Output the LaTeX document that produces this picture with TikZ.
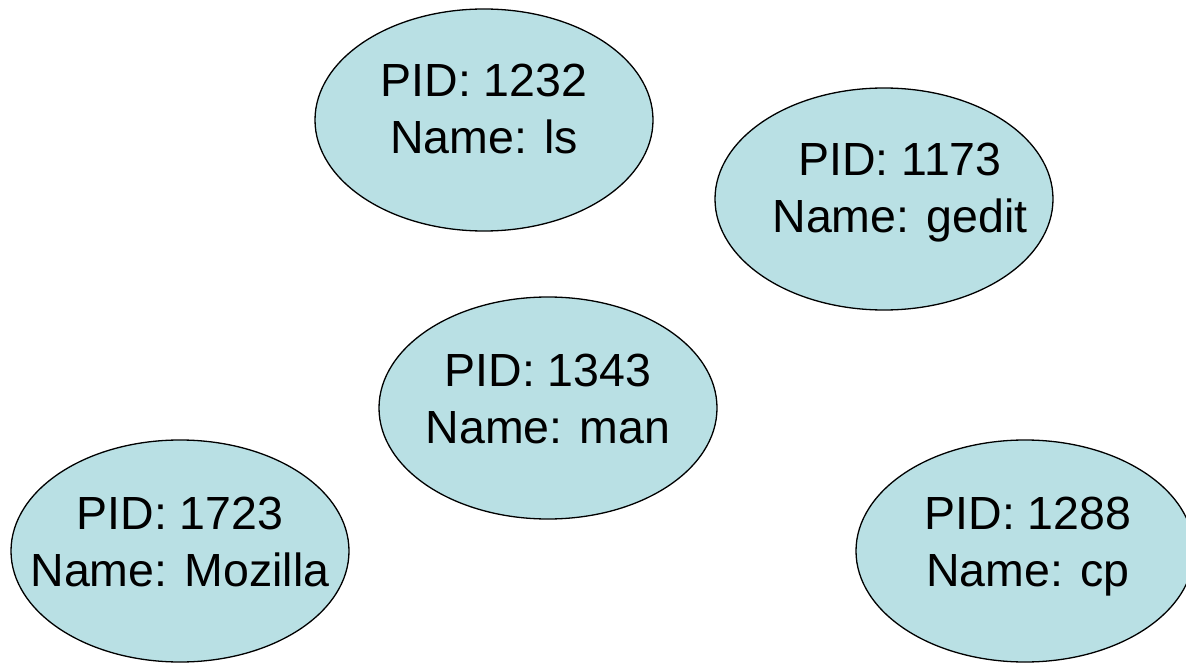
\documentclass[tikz,border=0pt]{standalone}
\usepackage{fontspec}
\setmainfont{Liberation Sans}
\usepackage{tikz}
\usetikzlibrary{arrows, shapes}

\definecolor{procfill}{RGB}{185,224,228}

\begin{document}
\begin{tikzpicture}[x=1pt,y=-1pt,
    main node/.style={ellipse,draw,line width=1.3pt,fill=procfill,inner sep=0pt,
        minimum width=338pt,minimum height=222pt},
    text node/.style={align=center,inner sep=0pt,text depth=0pt,
        font=\fontsize{46.5}{56.5}\selectfont}]
        \useasboundingbox (0,0) rectangle (1186,663);

        \node[main node] (1) at (484,120) {};
        \node[main node] (2) at (884,199) {};
        \node[main node] (3) at (548,408) {};
        \node[main node] (4) at (180,551) {};
        \node[main node] (5) at (1025,551) {};

        \node[text node] (1t) at ([yshift=11pt]1.center) {PID: 1232\\Name: ls};
        \node[text node] (2t) at ([xshift=16pt,yshift=11pt]2.center) {PID: 1173\\Name: gedit};
        \node[text node] (3t) at ([yshift=9pt]3.center) {PID: 1343\\Name: man};
        \node[text node] (4t) at ([yshift=9pt]4.center) {PID: 1723\\Name: Mozilla};
        \node[text node] (5t) at ([xshift=3pt,yshift=9pt]5.center) {PID: 1288\\Name: cp};
    \end{tikzpicture}
\end{document}
